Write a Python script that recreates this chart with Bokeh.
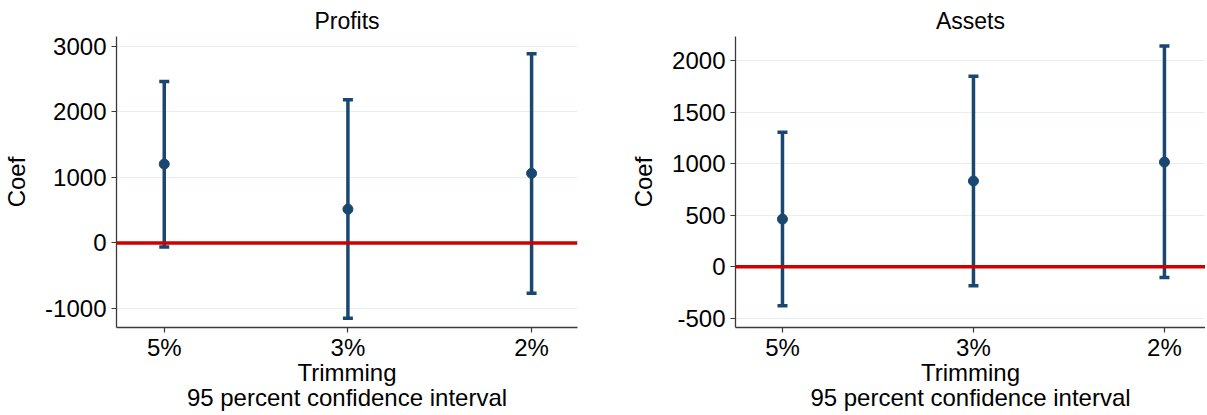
from bokeh.plotting import figure
from bokeh.layouts import row
from bokeh.models import FixedTicker, Range1d, Span, ColumnDataSource, Whisker
from bokeh.embed import file_html
from bokeh.resources import INLINE

categories = ["5%", "3%", "2%"]

profits_coef = [1202, 515, 1061]
profits_lower = [-61, -1146, -768]
profits_upper = [2460, 2182, 2884]
profits_ticks = [-1000, 0, 1000, 2000, 3000]

assets_coef = [464, 834, 1018]
assets_lower = [-377, -184, -103]
assets_upper = [1308, 1852, 2145]
assets_ticks = [-500, 0, 500, 1000, 1500, 2000]

NAVY = "#1a476f"
RED = "#d10000"
GRID = "#e6eef0"
AXIS = "#3a3a3a"
FONT = "Liberation Sans"
H = 415


def make_panel(title, coef, lower, upper, ticks, xr, yr, width, mb_left, mb_right):
    xpos = list(range(1, len(categories) + 1))
    src = ColumnDataSource(dict(x=xpos, coef=coef, lower=lower, upper=upper))
    p = figure(width=width, height=H, output_backend="svg", toolbar_location=None,
               x_range=Range1d(*xr), y_range=Range1d(*yr),
               min_border_left=mb_left, min_border_right=mb_right,
               min_border_top=36, min_border_bottom=H - 327)
    p.outline_line_color = None
    p.background_fill_color = "white"
    p.border_fill_color = "white"

    p.title.text = title
    p.title.align = "center"
    p.title.text_font = FONT
    p.title.text_font_size = "23px"
    p.title.text_font_style = "normal"
    p.title.text_color = "black"
    p.title.standoff = 6

    p.add_layout(Span(location=0, dimension="width", line_color=RED, line_width=3.5))

    wh = Whisker(base="x", lower="lower", upper="upper", source=src,
                 line_color=NAVY, line_width=3.5)
    for head in (wh.upper_head, wh.lower_head):
        head.size = 10
        head.line_color = NAVY
        head.line_width = 3.5
    p.add_layout(wh)
    p.scatter("x", "coef", source=src, size=10, color=NAVY)

    p.xaxis.ticker = FixedTicker(ticks=xpos)
    p.xaxis.major_label_overrides = {x: c for x, c in zip(xpos, categories)}
    p.xaxis.axis_label = "Trimming\n95 percent confidence interval"
    p.xaxis.axis_label_text_line_height = 0.95
    p.xgrid.visible = False
    p.ygrid.ticker = FixedTicker(ticks=ticks)
    p.ygrid.grid_line_color = GRID
    p.ygrid.grid_line_width = 1.2

    p.yaxis.ticker = FixedTicker(ticks=ticks)
    p.yaxis.major_label_overrides = {t: str(t) for t in ticks}
    p.yaxis.axis_label = "Coef"

    for ax in (p.xaxis[0], p.yaxis[0]):
        ax.axis_line_color = AXIS
        ax.axis_line_width = 1.3
        ax.major_tick_line_color = AXIS
        ax.major_tick_line_width = 1.2
        ax.major_tick_out = 5
        ax.major_tick_in = 0
        ax.minor_tick_line_color = None
        ax.major_label_text_font = FONT
        ax.major_label_text_font_size = "24px"
        ax.major_label_text_color = "black"
        ax.axis_label_text_font = FONT
        ax.axis_label_text_font_size = "24px"
        ax.axis_label_text_font_style = "normal"
        ax.axis_label_text_color = "black"
    p.xaxis.major_label_standoff = 1
    p.xaxis.axis_label_standoff = -5
    p.yaxis.major_label_standoff = 5
    p.yaxis.axis_label_standoff = 12
    p.yaxis.major_label_orientation = "horizontal"
    return p


p1 = make_panel("Profits", profits_coef, profits_lower, profits_upper, profits_ticks,
                (0.74, 3.25), (-1288, 3146), 620, 114, 43)
p2 = make_panel("Assets", assets_coef, assets_lower, assets_upper, assets_ticks,
                (0.754, 3.215), (-589, 2238), 585, 115, 0)

p = row(p1, p2)
open("out.html", "w").write(file_html(p, INLINE))
